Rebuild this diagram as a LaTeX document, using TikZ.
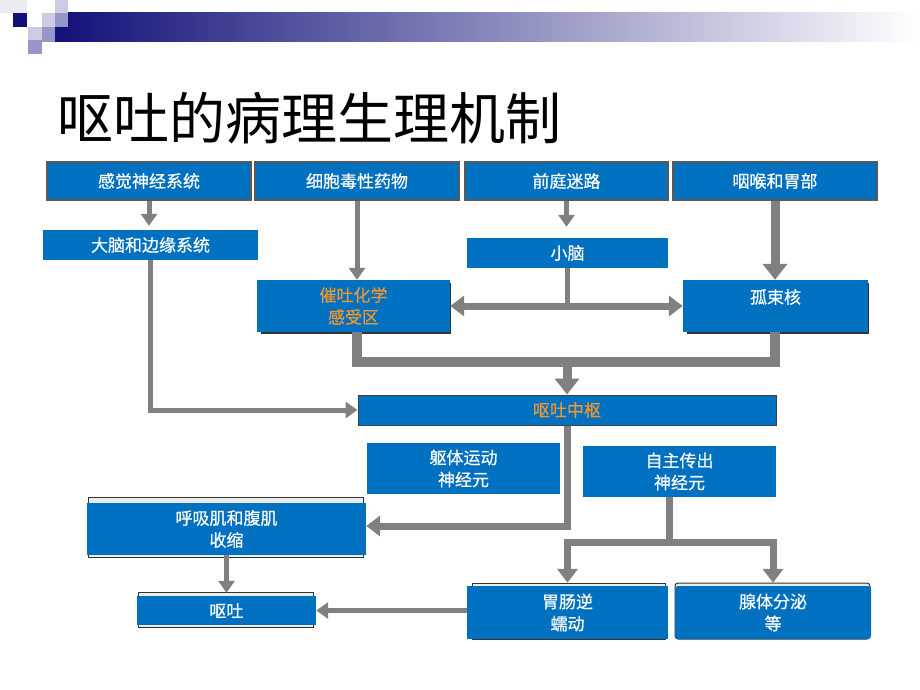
\documentclass[tikz,border=0pt]{standalone}
\usepackage{fontspec}
\setmainfont{Noto Sans CJK SC}
\newfontfamily\boxfont{Noto Sans CJK SC}[UprightFeatures={FakeBold=0.5}]
\usetikzlibrary{arrows.meta}
\definecolor{boxblue}{RGB}{0,112,192}
\definecolor{arrgray}{RGB}{128,128,128}
\definecolor{orangetxt}{RGB}{238,150,50}
\definecolor{navy}{RGB}{16,16,120}
\definecolor{lavlight}{RGB}{204,204,228}
\definecolor{lavmid}{RGB}{150,150,200}
\begin{document}
\begin{tikzpicture}[x=1pt,y=-1pt,
  box/.style={fill=boxblue,text=white,inner sep=0pt,font=\boxfont\fontsize{17}{22}\selectfont,align=center},
  topbox/.style={box,draw=black!65,line width=2.5pt},
  backpanel/.style={fill=gray!15,draw=black!80,line width=1pt},
  arr/.style={draw=arrgray,line width=5pt,-{Triangle[width=16pt,length=12pt]}},
  midarr/.style={draw=arrgray,line width=7pt,-{Triangle[width=20pt,length=14pt]}},
  bigarr/.style={draw=arrgray,line width=9pt,-{Triangle[width=24pt,length=16pt]}},
  dblarr/.style={draw=arrgray,line width=7pt,{Triangle[width=20pt,length=14pt]}-{Triangle[width=20pt,length=14pt]}},
  bar/.style={draw=arrgray,line width=10pt}
]
\useasboundingbox (0,0) rectangle (920,690);
\fill[white] (0,0) rectangle (920,690);

% header decoration
\shade[left color=navy,middle color={rgb,255:red,130;green,130;blue,180},right color=white] (55,13) rectangle (920,42);
\fill[lavlight!40] (0,0) rectangle (27,13);
\fill[navy] (13,13) rectangle (27,27);
\fill[lavlight] (42,13) rectangle (55,27);
\fill[lavlight] (55,0) rectangle (68,13);
\fill[lavmid] (55,13) rectangle (68,27);
\fill[lavlight] (28,27) rectangle (42,40);
\fill[lavmid] (42,27) rectangle (55,42);
\fill[lavmid] (28,40) rectangle (42,54);

% title
\node[anchor=west,inner sep=0pt,font=\fontsize{56}{62}\selectfont] (title) at (57,118) {呕吐的病理生理机制};

% top row
\node[topbox,minimum width=204pt,minimum height=38pt] (sense) at (149,181) {感觉神经系统};
\node[topbox,minimum width=204pt,minimum height=38pt] (cyto) at (357,181) {细胞毒性药物};
\node[topbox,minimum width=203pt,minimum height=38pt] (vest) at (566.5,181) {前庭迷路};
\node[topbox,minimum width=204pt,minimum height=38pt] (phar) at (775,181) {咽喉和胃部};

% second row
\node[box,minimum width=215pt,minimum height=30pt] (brain) at (150.5,245) {大脑和边缘系统};
\node[box,minimum width=201pt,minimum height=30pt] (cereb) at (567.5,253) {小脑};

% third row
\fill[black!80] (261,283) rectangle (451,334);
\node[box,minimum width=193pt,minimum height=52pt,text=orangetxt] (ctz) at (353.5,306) {催吐化学\\感受区};
\fill[black!80] (687,283) rectangle (869,334);
\node[box,minimum width=185pt,minimum height=52pt] (nts) at (775.5,306) {};
\node[box,fill=none] (ntslbl) at (775.5,297) {孤束核};

% vomiting center
\node[box,minimum width=418pt,minimum height=30pt,text=orangetxt,draw=black!75,line width=1pt] (vc) at (567,410) {呕吐中枢};

% neurons
\node[box,minimum width=193pt,minimum height=51pt] (somatic) at (463.5,468.5) {躯体运动\\神经元};
\node[box,minimum width=193pt,minimum height=51pt] (auto) at (679.5,471.5) {自主传出\\神经元};

% effectors
\draw[backpanel] (88,497) rectangle (363,557);
\node[box,minimum width=279pt,minimum height=52pt] (resp) at (226.5,529) {呼吸肌和腹肌\\收缩};
\draw[backpanel] (138,592) rectangle (313,627);
\node[box,minimum width=179pt,minimum height=29pt] (vomit) at (226.5,610.5) {呕吐};
\draw[backpanel] (472,583) rectangle (665,639);
\node[box,minimum width=201pt,minimum height=53pt] (gi) at (567.5,612.5) {胃肠逆\\蠕动};
\draw[backpanel,rounded corners=3pt] (675,583) rectangle (870,639);
\node[box,minimum width=196pt,minimum height=53pt,rounded corners=3pt] (gland) at (773,612.5) {腺体分泌\\等};

% connectors
\draw[arr,shorten >=4pt] (sense.south) -- (sense.south |- brain.north);
\draw[arr] (cyto.south) -- (cyto.south |- ctz.north);
\draw[arr,shorten >=11pt] (vest.south) -- (vest.south |- cereb.north);
\draw[bigarr] (phar.south) -- (phar.south |- nts.north);

\draw[draw=arrgray,line width=5pt] (cereb.south) -- (cereb.south |- ctz.east);
\draw[dblarr] (ctz.east) -- (nts.west);

\coordinate (m) at (567,362);
\draw[bar] (ctz.south -| cyto) -- (cyto |- m) -- (phar |- m) -- (nts.south -| phar);
\draw[bigarr] ([yshift=5pt]m) -- (vc.north);

\draw[arr] (brain.south) -- (brain.south |- vc.west) -- (vc.west);

\coordinate (k) at (567,526);
\draw[midarr] (vc.south) -- (k) -- (k -| resp.east);

\draw[arr] (resp.south) -- ([yshift=3pt]resp.south |- vomit.north);
\draw[arr] (gi.west |- vomit.east) -- (vomit.east);

\coordinate (s) at (669,542);
\draw[draw=arrgray,line width=7pt] (s |- auto.south) -- ([yshift=-3.5pt]s);
\draw[midarr] (s) -| ([yshift=3pt]gi.north);
\draw[midarr] (s) -| ([yshift=3pt]gland.north);
\end{tikzpicture}
\end{document}
